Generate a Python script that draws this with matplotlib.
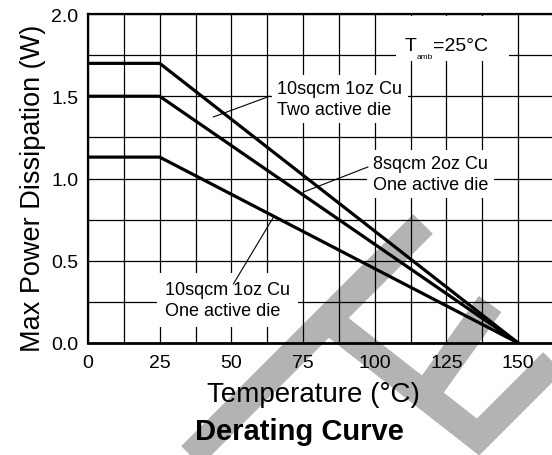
import numpy as np
import matplotlib
matplotlib.use("Agg")
import matplotlib.pyplot as plt
from matplotlib.lines import Line2D
from matplotlib.patches import Rectangle
from matplotlib.ticker import MultipleLocator

plt.rcParams['font.family'] = ['Liberation Sans', 'DejaVu Sans']

# derating data (temperature in degC, power in W)
temps = [0, 25, 150]
p_two_die = [1.70, 1.70, 0.0]
p_8sqcm = [1.50, 1.50, 0.0]
p_one_die = [1.13, 1.13, 0.0]

x_ticks = [0, 25, 50, 75, 100, 125, 150]
y_ticks = [0.0, 0.5, 1.0, 1.5, 2.0]

labels = ["10sqcm 1oz Cu\nTwo active die",
          "8sqcm 2oz Cu\nOne active die",
          "10sqcm 1oz Cu\nOne active die"]

fig = plt.figure(figsize=(5.52, 4.56), dpi=100)

# grey watermark behind everything (pixel coords of the 552x456 image)
def px(pts):
    pts = np.array(pts, dtype=float)
    return pts[:, 0] / 552, 1 - pts[:, 1] / 456

wm = dict(color='#b3b3b3', lw=20, solid_capstyle='butt', solid_joinstyle='miter',
          transform=fig.transFigure, zorder=-5)
for pts in ([(160, 488), (423, 225)],
            [(321, 315), (478, 438), (600, 316)],
            [(425, 396), (490, 305)]):
    xs, ys = px(pts)
    fig.add_artist(Line2D(xs, ys, **wm))

ax = fig.add_axes([88 / 552, 112 / 456, 466 / 552, 329 / 456])
ax.set_facecolor('none')

ax.plot(temps, p_two_die, color='black', lw=2.3, zorder=3)
ax.plot(temps, p_8sqcm, color='black', lw=2.3, zorder=3)
ax.plot(temps, p_one_die, color='black', lw=2.3, zorder=3)

ax.set_xlim(0, 162.5)
ax.set_ylim(0, 2.0)
ax.set_xticks(x_ticks)
ax.set_yticks(y_ticks)
ax.set_yticklabels([f"{v:.1f}" for v in y_ticks])
ax.xaxis.set_minor_locator(MultipleLocator(12.5))
ax.yaxis.set_minor_locator(MultipleLocator(0.25))
ax.grid(which='both', color='black', lw=0.9, zorder=1)
ax.set_axisbelow(True)
ax.tick_params(which='both', length=0)
ax.tick_params(axis='x', labelsize=14, pad=8)
ax.tick_params(axis='y', labelsize=14, pad=7)

ax.spines['right'].set_visible(False)
ax.spines['left'].set_linewidth(1.6)
ax.spines['top'].set_linewidth(1.6)
ax.spines['bottom'].set_linewidth(2.0)

box = dict(facecolor='white', edgecolor='none', pad=4)
ax.text(66.0, 1.483, labels[0], fontsize=13, va='center', ha='left',
        linespacing=1.25, bbox=box, zorder=4)
ax.text(99.3, 1.027, labels[1], fontsize=13, va='center', ha='left',
        linespacing=1.25, bbox=box, zorder=4)
ax.text(26.9, 0.261, labels[2], fontsize=13, va='center', ha='left',
        linespacing=1.25, bbox=dict(facecolor='white', edgecolor='none', pad=6), zorder=4)

# T_amb note with a tiny, lowered subscript
ax.add_patch(Rectangle((107.3, 1.714), 39.6, 0.274, facecolor='white',
                       edgecolor='none', zorder=4))
t1 = ax.text(110.3, 1.755, "T", fontsize=14, va='bottom', ha='left', zorder=5)
t2 = ax.annotate("amb", xy=(1, 0), xycoords=t1, xytext=(0.3, -4),
                 textcoords='offset points', fontsize=6, va='bottom', ha='left', zorder=5)
ax.annotate("=25°C", xy=(1, 0), xycoords=(t2, t1), xytext=(0.2, 0),
            textcoords='offset points', fontsize=14, va='bottom', ha='left', zorder=5)

# leader lines
ax.plot([63.3, 43.7], [1.50, 1.374], color='black', lw=0.8, zorder=5)
ax.plot([97.6, 75.2], [1.07, 0.918], color='black', lw=0.8, zorder=5)
ax.plot([50.7, 64.7], [0.359, 0.766], color='black', lw=0.8, zorder=5)

fig.text(33 / 552, 1 - 188 / 456, "Max Power Dissipation (W)", rotation=90,
         fontsize=19.5, ha='center', va='center')
fig.text(313 / 552, 1 - 395 / 456, "Temperature (°C)", fontsize=20,
         ha='center', va='center')
fig.text(299 / 552, 1 - 432 / 456, "Derating Curve", fontsize=21,
         fontweight='bold', ha='center', va='center')

fig.savefig("out.png", dpi=100)
